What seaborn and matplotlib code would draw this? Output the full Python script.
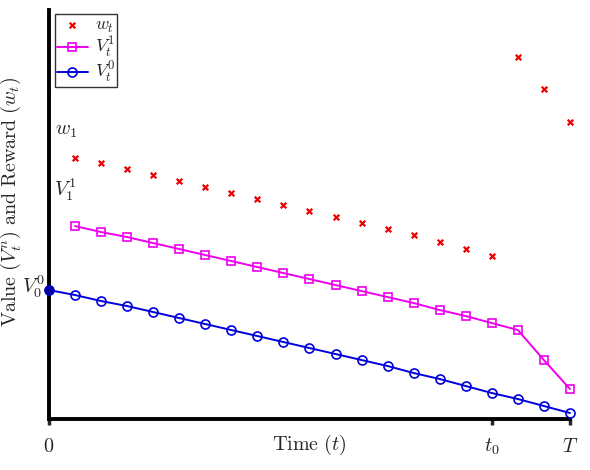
import numpy as np
import pandas as pd
import matplotlib.pyplot as plt
import seaborn as sns

# =====================================================
# DATA
# =====================================================
t_w = list(range(1, 21))
w_vals = [26.1, 25.6, 25.0, 24.4, 23.8, 23.2, 22.6, 22.0, 21.4, 20.8,
          20.2, 19.6, 19.0, 18.4, 17.7, 17.0, 16.3, 36.2, 33.0, 29.7]

t_v1 = list(range(1, 21))
v1_vals = [19.3, 18.7, 18.2, 17.6, 17.0, 16.4, 15.8, 15.2, 14.6, 14.0,
           13.4, 12.8, 12.2, 11.6, 10.9, 10.3, 9.6, 8.9, 5.9, 3.0]

t_v0 = list(range(0, 21))
v0_vals = [12.9, 12.4, 11.8, 11.3, 10.7, 10.1, 9.5, 8.9, 8.3, 7.7, 7.1,
           6.5, 5.9, 5.3, 4.6, 4.0, 3.3, 2.6, 2.0, 1.3, 0.6]

xtick_pos = [0, 17, 20]
xtick_labels = [r"$0$", r"$t_0$", r"$T$"]

df_w = pd.DataFrame({"t": t_w, "val": w_vals})
df_v1 = pd.DataFrame({"t": t_v1, "val": v1_vals})
df_v0 = pd.DataFrame({"t": t_v0, "val": v0_vals})

# =====================================================
# STYLE
# =====================================================
sns.set_style("white")
plt.rcParams["mathtext.fontset"] = "cm"
plt.rcParams["font.family"] = ["DejaVu Serif"]

fig = plt.figure(figsize=(5.9, 4.7), dpi=100)
ax = fig.add_axes([0.083, 0.1085, 0.883, 0.870])

RED = "#ee0000"
MAG = "#ee00ee"
BLUE = "#0000dd"
FS = 14.5

# =====================================================
# PLOT
# =====================================================
sns.scatterplot(data=df_w, x="t", y="val", ax=ax, marker="x", color=RED,
                s=16, linewidth=1.6, label=r"$w_t$", clip_on=False, zorder=3)
sns.lineplot(data=df_v1, x="t", y="val", ax=ax, color=MAG, linewidth=1.4,
             marker="s", markersize=5.5, markerfacecolor="none",
             markeredgecolor=MAG, markeredgewidth=1.2,
             label=r"$V_t^1$", clip_on=False, zorder=3)
sns.lineplot(data=df_v0, x="t", y="val", ax=ax, color=BLUE, linewidth=1.4,
             marker="o", markersize=6.5, markerfacecolor="none",
             markeredgecolor=BLUE, markeredgewidth=1.2,
             label=r"$V_t^0$", clip_on=False, zorder=3)

# filled starting point
ax.plot([t_v0[0]], [v0_vals[0]], "o", color="#0000aa", markersize=6,
        clip_on=False, zorder=5)

# annotations
ax.text(0.25, 28.9, r"$w_1$", fontsize=FS, va="center", ha="left")
ax.text(0.2, 22.9, r"$V_1^1$", fontsize=FS, va="center", ha="left")
ax.text(-0.15, 13.2, r"$V_0^0$", fontsize=FS, va="center", ha="right")

# =====================================================
# AXES
# =====================================================
ax.set_xlim(0, 20)
ax.set_ylim(0, 40.9)
ax.set_xticks(xtick_pos)
ax.set_xticklabels(xtick_labels, fontsize=FS)
ax.set_yticks([])
ax.tick_params(axis="x", direction="out", length=4, width=2.5,
               bottom=True, pad=9)

for side in ["top", "right"]:
    ax.spines[side].set_visible(False)
for side in ["left", "bottom"]:
    ax.spines[side].set_linewidth(2.8)
    ax.spines[side].set_color("black")

ax.set_xlabel(r"$\mathrm{Time}\ (t)$", fontsize=FS, labelpad=-18)
ax.set_ylabel(r"$\mathrm{Value}\ (V_t^n)\ \mathrm{and\ Reward}\ (w_t)$",
              fontsize=FS)
ax.yaxis.set_label_coords(-0.05, 0.53)

leg = ax.legend(loc="upper left", bbox_to_anchor=(0.012, 0.99),
                fontsize=13, frameon=True, fancybox=False,
                borderaxespad=0, handlelength=1.7, handletextpad=0.4,
                labelspacing=0.0, borderpad=0.1)
leg.get_frame().set_edgecolor("black")
leg.get_frame().set_linewidth(1.0)

# SAVE
fig.savefig("out.png", dpi=100)
